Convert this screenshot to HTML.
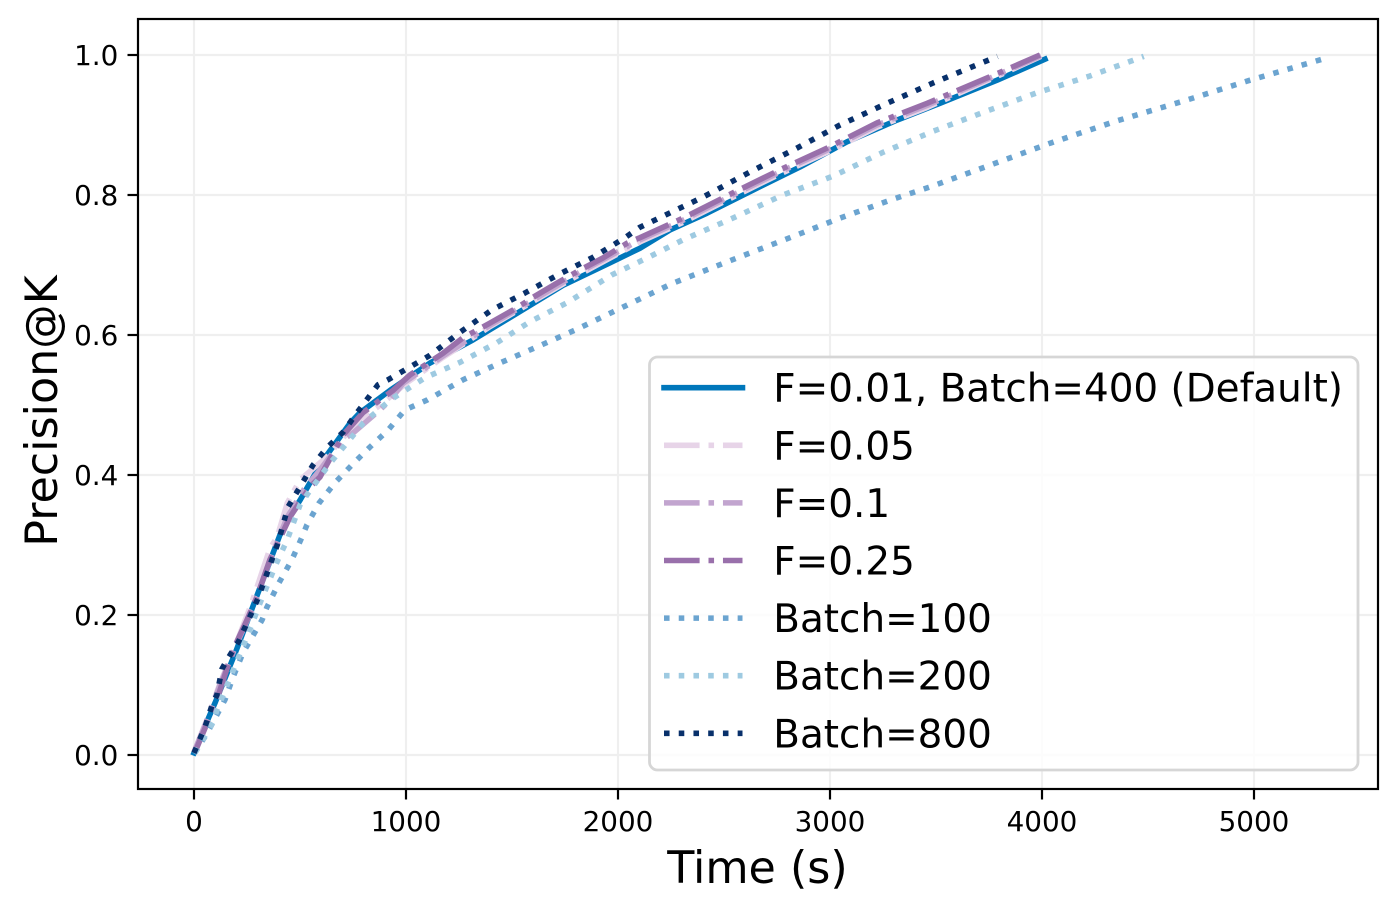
<!DOCTYPE html>
<html>
<head>
<meta charset="utf-8">
<title>Precision@K over time</title>
<style>
html,body{margin:0;padding:0;background:#fff;}
svg{display:block;}
text{font-family:"DejaVu Sans","Liberation Sans",sans-serif;fill:#000;}
</style>
</head>
<body>
<svg id="chart" width="1397" height="911" viewBox="0 0 1397 911" xmlns="http://www.w3.org/2000/svg">
  <g id="grid"></g>
  <g id="series"></g>
  <rect x="138" y="19" width="1240" height="770" fill="none" stroke="#000" stroke-width="2.2"></rect>
  <g id="ticks"></g>
  <text x="757.5" y="883" font-size="44.4" text-anchor="middle">Time (s)</text>
  <text transform="translate(57,411) rotate(-90)" font-size="44.4" text-anchor="middle">Precision@K</text>
  <g id="legend">
    <rect x="649.5" y="357" width="708.5" height="413" rx="8" ry="8" fill="#fff" fill-opacity="0.8" stroke="#d6d6d6" stroke-width="2.8"></rect>
  </g>
</svg>
<script>
const xTicks = [0, 1000, 2000, 3000, 4000, 5000];
const yTicks = [0.0, 0.2, 0.4, 0.6, 0.8, 1.0];
const seriesLabels = ["F=0.01, Batch=400 (Default)", "F=0.05", "F=0.1", "F=0.25", "Batch=100", "Batch=200", "Batch=800"];

const timeDefault = [0, 50, 100, 200, 325, 420, 500, 604, 736, 783, 925, 1113, 1316, 1524, 1741, 1962, 2104, 2245, 2420, 2637, 2858, 3080, 3316, 3519, 3788, 4014];
const precisionDefault = [0.003, 0.04, 0.075, 0.15, 0.25, 0.326, 0.364, 0.419, 0.474, 0.489, 0.521, 0.56, 0.593, 0.631, 0.671, 0.703, 0.724, 0.75, 0.774, 0.807, 0.84, 0.876, 0.907, 0.931, 0.964, 0.994];

const timeF05 = [0, 60, 120, 200, 270, 358, 392, 440, 500, 627, 700, 783, 880, 1000, 1175, 1396, 1600, 1821, 2104, 2307, 2542, 2764, 2986, 3222, 3458, 3755, 3995];
const precisionF05 = [0.004, 0.05, 0.1, 0.16, 0.215, 0.295, 0.311, 0.36, 0.393, 0.426, 0.452, 0.48, 0.5, 0.531, 0.568, 0.612, 0.648, 0.687, 0.733, 0.761, 0.797, 0.83, 0.861, 0.897, 0.925, 0.965, 0.998];

const timeF1 = [0, 60, 120, 200, 280, 358, 440, 520, 594, 700, 750, 877, 925, 986, 1175, 1396, 1600, 1821, 2104, 2307, 2542, 2764, 2986, 3222, 3458, 3755, 3995];
const precisionF1 = [0.004, 0.048, 0.098, 0.158, 0.212, 0.278, 0.34, 0.38, 0.407, 0.45, 0.46, 0.493, 0.507, 0.531, 0.57, 0.614, 0.65, 0.69, 0.736, 0.764, 0.8, 0.833, 0.864, 0.9, 0.928, 0.967, 0.999];

const timeF25 = [0, 14, 108, 184, 250, 297, 358, 453, 547, 594, 703, 797, 939, 1019, 1175, 1269, 1396, 1524, 1600, 1712, 1821, 1929, 2042, 2104, 2307, 2542, 2764, 2986, 3222, 3458, 3755, 3990];
const precisionF25 = [0.003, 0.011, 0.079, 0.15, 0.193, 0.226, 0.279, 0.34, 0.383, 0.397, 0.457, 0.489, 0.521, 0.543, 0.574, 0.596, 0.617, 0.639, 0.654, 0.674, 0.693, 0.71, 0.731, 0.739, 0.767, 0.803, 0.836, 0.867, 0.903, 0.931, 0.969, 1.0];

const timeBatch100 = [0, 60, 146, 184, 231, 321, 344, 401, 462, 509, 533, 590, 665, 750, 830, 915, 995, 1099, 1269, 1443, 1618, 1797, 2024, 2259, 2561, 2811, 3047, 3297, 3486, 3731, 4038, 4354, 4665, 4981, 5322];
const precisionBatch100 = [0.002, 0.03, 0.079, 0.111, 0.146, 0.193, 0.211, 0.246, 0.279, 0.311, 0.329, 0.36, 0.389, 0.416, 0.44, 0.464, 0.493, 0.507, 0.536, 0.56, 0.583, 0.607, 0.64, 0.674, 0.71, 0.739, 0.767, 0.794, 0.813, 0.84, 0.874, 0.906, 0.934, 0.964, 0.994];

const timeBatch200 = [5, 90, 108, 278, 302, 392, 439, 500, 538, 642, 722, 797, 925, 1090, 1255, 1429, 1585, 1759, 1972, 2137, 2307, 2542, 2778, 3014, 3250, 3486, 3731, 3976, 4226, 4480];
const precisionBatch200 = [0.003, 0.047, 0.064, 0.19, 0.21, 0.276, 0.307, 0.357, 0.374, 0.417, 0.446, 0.474, 0.507, 0.539, 0.561, 0.589, 0.619, 0.646, 0.686, 0.71, 0.736, 0.767, 0.8, 0.827, 0.861, 0.891, 0.919, 0.946, 0.97, 0.998];

const timeBatch800 = [0, 52, 85, 108, 132, 156, 212, 231, 278, 302, 358, 396, 443, 500, 561, 627, 703, 769, 868, 915, 1113, 1255, 1406, 1561, 1717, 1882, 2033, 2104, 2401, 2623, 2844, 3047, 3269, 3486, 3790];
const precisionBatch800 = [0.003, 0.04, 0.071, 0.086, 0.123, 0.136, 0.163, 0.176, 0.207, 0.224, 0.271, 0.303, 0.354, 0.383, 0.414, 0.439, 0.461, 0.489, 0.529, 0.536, 0.571, 0.604, 0.636, 0.66, 0.686, 0.711, 0.739, 0.754, 0.797, 0.833, 0.867, 0.9, 0.931, 0.96, 0.998];

const allTimes = [timeDefault, timeF05, timeF1, timeF25, timeBatch100, timeBatch200, timeBatch800];
const allPrecisions = [precisionDefault, precisionF05, precisionF1, precisionF25, precisionBatch100, precisionBatch200, precisionBatch800];
const seriesNames = ["default", "f-0-05", "f-0-1", "f-0-25", "batch-100", "batch-200", "batch-800"];
const seriesColors = ["#0077bb", "#e7d4e8", "#c2a5cf", "#9970ab", "#6ba4d0", "#9ecae1", "#08306b"];
const DASHDOT = "35.6 8.9 5.56 8.9";
const DOTTED = "5.56 9.17";
const seriesDash = ["", DASHDOT, DASHDOT, DASHDOT, DOTTED, DOTTED, DOTTED];

const NS = "http://www.w3.org/2000/svg";
const xScale = t => 194 + t * 0.212;
const yScale = v => 755 - v * 700;
function mk(tag, parent, attrs) {
  const el = document.createElementNS(NS, tag);
  for (const k in attrs) el.setAttribute(k, attrs[k]);
  parent.appendChild(el);
  return el;
}
const gridG = document.getElementById("grid");
const ticksG = document.getElementById("ticks");
const seriesG = document.getElementById("series");
const legendG = document.getElementById("legend");

xTicks.forEach(t => {
  const x = xScale(t);
  const g = mk("line", gridG, {x1: x, x2: x, y1: 19, y2: 789, stroke: "#efefef", "stroke-width": 2.2});
  
  
  const m = mk("line", ticksG, {x1: x, x2: x, y1: 789, y2: 799.5, stroke: "#000", "stroke-width": 2.2});
  
  
  const l = mk("text", ticksG, {x: x, y: 831, "font-size": 27.8, "text-anchor": "middle"});
  l.textContent = String(t);
  
  
});
yTicks.forEach(v => {
  const y = yScale(v);
  const g = mk("line", gridG, {x1: 138, x2: 1378, y1: y, y2: y, stroke: "#efefef", "stroke-width": 2.2});
  
  
  const m = mk("line", ticksG, {x1: 127.5, x2: 138, y1: y, y2: y, stroke: "#000", "stroke-width": 2.2});
  
  
  const l = mk("text", ticksG, {x: 118.3, y: y + 10, "font-size": 27.8, "text-anchor": "end"});
  l.textContent = v.toFixed(1);
  
  
});

allTimes.forEach((times, i) => {
  const d = times.map((t, j) => (j ? "L" : "M") + xScale(t).toFixed(1) + " " + yScale(allPrecisions[i][j]).toFixed(1)).join(" ");
  const p = mk("path", seriesG, {d: d, fill: "none", stroke: seriesColors[i], "stroke-width": 5.56, "stroke-linejoin": "round", "stroke-linecap": seriesDash[i] ? "butt" : "square"});
  if (seriesDash[i]) p.setAttribute("stroke-dasharray", seriesDash[i]);
  
  
});

seriesLabels.forEach((label, i) => {
  const y = 387.7 + i * 57.6;
  const h = mk("line", legendG, {x1: 664, x2: 742.5, y1: y, y2: y, stroke: seriesColors[i], "stroke-width": 5.56, "stroke-linecap": seriesDash[i] ? "butt" : "square"});
  if (seriesDash[i]) h.setAttribute("stroke-dasharray", seriesDash[i]);
  
  
  const t = mk("text", legendG, {x: 773.3, y: y + 14, "font-size": 38.9});
  t.textContent = label;
  
  
});
</script>
</body>
</html>
